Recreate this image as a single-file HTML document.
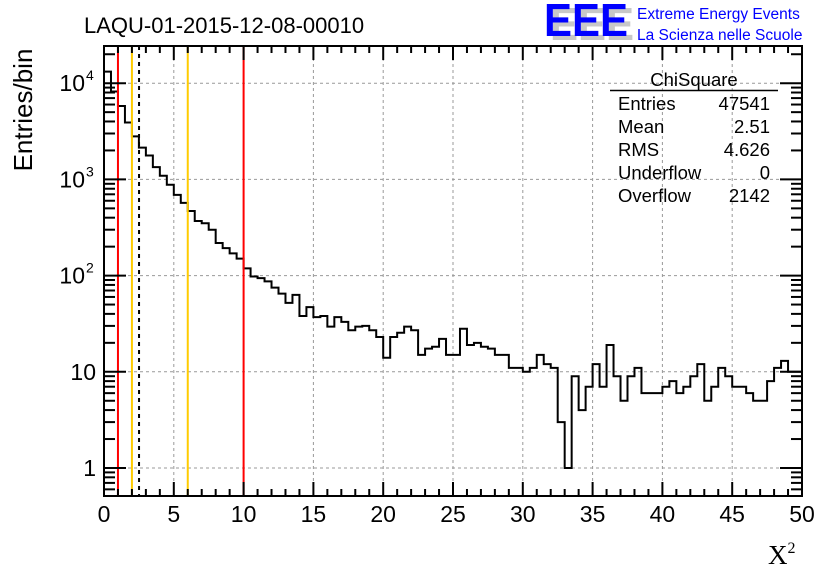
<!DOCTYPE html>
<html><head><meta charset="utf-8"><style>
html,body{margin:0;padding:0;background:#fff;}
svg{display:block;font-family:"Liberation Sans",sans-serif;}
</style></head><body>
<svg id="c" width="836" height="572" viewBox="0 0 836 572">
<text x="84" y="33" font-size="22">LAQU-01-2015-12-08-00010</text>
<g>
<text x="550" y="40" font-size="46" font-weight="bold" fill="#c8c8c8" textLength="84" lengthAdjust="spacingAndGlyphs">EEE</text>
<text x="544" y="36" font-size="46" font-weight="bold" fill="#0000ff" textLength="84" lengthAdjust="spacingAndGlyphs">EEE</text>
<text x="637" y="19" font-size="15.5" fill="#0000ff">Extreme Energy Events</text>
<text x="637" y="40" font-size="15.5" fill="#0000ff">La Scienza nelle Scuole</text>
</g>
<g id="grid"></g>
<g id="marks"></g>
<g id="axes"></g>
<g font-size="18.5">
<text x="694" y="86" text-anchor="middle">ChiSquare</text>
<line x1="610" y1="90.5" x2="778" y2="90.5" stroke="#000" stroke-width="1.5"/>
<text x="618" y="110">Entries</text><text x="770" y="110" text-anchor="end">47541</text>
<text x="618" y="133">Mean</text><text x="770" y="133" text-anchor="end">2.51</text>
<text x="618" y="156">RMS</text><text x="770" y="156" text-anchor="end">4.626</text>
<text x="618" y="179">Underflow</text><text x="770" y="179" text-anchor="end">0</text>
<text x="618" y="202">Overflow</text><text x="770" y="202" text-anchor="end">2142</text>
</g>
<text transform="translate(32,110) rotate(-90)" text-anchor="middle" font-size="26">Entries/bin</text>
<text x="768" y="564" font-family="Liberation Serif,serif" font-size="27">X<tspan font-size="16" dy="-11">2</tspan></text>
</svg>
<script>
const binCounts = [13200,8200,5800,3900,2800,2140,1770,1340,1090,880,690,570,470,370,350,300,218,193,170,150,119,98,94,87,75,65,52,63,38,47,37,38,29.5,37,33,27,29.5,30,27,23,14,23,25.5,29.5,27,15,17.4,18.2,22,15,15,28,19,20,18.2,17.4,15,15,11,11,10,11,15,12,11,3,1,9,4,7,12,7,19,9,5,9,11,6,6,6,7,8,6,7,9,12,5,7,11,9,7,7,6,5,5,8,11,13,10,10];
const binWidth = 0.5;
const xTicks = [0,5,10,15,20,25,30,35,40,45,50];
const yDecades = [0,1,2,3,4];
const markerLines = [{x:1,c:'#ff0000',d:''},{x:2,c:'#ffcc00',d:''},{x:2.51,c:'#000',d:'4,4'},{x:6,c:'#ffcc00',d:''},{x:10,c:'#ff0000',d:''}];
const L=104,R=802,T=46,B=496;
const X=v=>L+(v/50)*(R-L);
const Y=v=>468-Math.log10(v)*96.2;
const NS='http://www.w3.org/2000/svg';
function mk(tag,attrs,parent){const e=document.createElementNS(NS,tag);for(const k in attrs)e.setAttribute(k,attrs[k]);parent.appendChild(e);return e;}
const grid=document.getElementById('grid'),marks=document.getElementById('marks'),axes=document.getElementById('axes');
xTicks.slice(1,-1).forEach(t=>{const l=mk('line',{x1:X(t),x2:X(t),y1:T,y2:B,stroke:'#999','stroke-dasharray':'3,3'},grid);

});
yDecades.forEach(d=>{const y=Y(Math.pow(10,d));const l=mk('line',{x1:L,x2:R,y1:y,y2:y,stroke:'#999','stroke-dasharray':'3,3'},grid);

});
let p='M'+X(0)+','+B;
binCounts.forEach((v,i)=>{const y=Y(v);p+=' L'+X(i*binWidth)+','+y+' L'+X((i+1)*binWidth)+','+y;});
const h=mk('path',{d:p,fill:'none',stroke:'#000','stroke-width':2},marks);


markerLines.forEach(m=>{const l=mk('line',{x1:X(m.x),x2:X(m.x),y1:T,y2:B,stroke:m.c,'stroke-width':2,'stroke-dasharray':m.d||'none'},marks);

});
const f=mk('rect',{x:L,y:T,width:R-L,height:B-T,fill:'none',stroke:'#000','stroke-width':2},axes);


for(let v=0;v<=50;v++){const big=v%5===0,len=big?14:7;
mk('line',{x1:X(v),x2:X(v),y1:B,y2:B-len,stroke:'#000','stroke-width':2},axes);
mk('line',{x1:X(v),x2:X(v),y1:T,y2:T+len,stroke:'#000','stroke-width':2},axes);}
xTicks.forEach(t=>{const tx=mk('text',{x:X(t),y:522,'text-anchor':'middle','font-size':23},axes);tx.textContent=t;

});
for(let d=-1;d<=4;d++){for(let m=1;m<=9;m++){const v=m*Math.pow(10,d);const y=Y(v);if(y<T||y>B)continue;const len=m===1?22:11;
mk('line',{x1:L,x2:L+len,y1:y,y2:y,stroke:'#000','stroke-width':2},axes);
mk('line',{x1:R,x2:R-len,y1:y,y2:y,stroke:'#000','stroke-width':2},axes);}}
const yLab=['1','10','10','10','10'];const yExp=['','','2','3','4'];
yDecades.forEach((d,i)=>{const tx=mk('text',{x:yExp[i]?85:96,y:Y(Math.pow(10,d))+8,'text-anchor':'end','font-size':23},axes);tx.textContent=yLab[i];


if(yExp[i]){const s=mk('text',{x:86,y:Y(Math.pow(10,d))-3,'font-size':14},axes);s.textContent=yExp[i];

}});
</script>
</body></html>
